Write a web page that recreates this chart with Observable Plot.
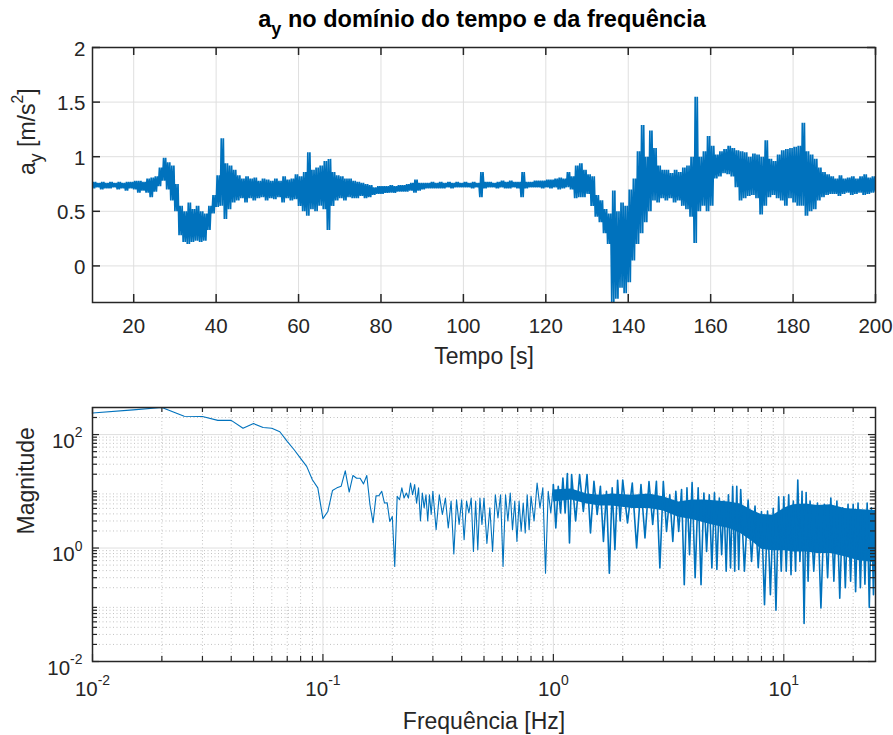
<!DOCTYPE html>
<html><head><meta charset="utf-8">
<script src="https://cdn.jsdelivr.net/npm/d3@7"></script>
<script src="https://cdn.jsdelivr.net/npm/@observablehq/plot@0.6"></script>
<style>
body{margin:0;background:#fff;}
#chart{width:893px;height:735px;position:relative;background:#fff;}
#chart svg{display:block;position:absolute;left:0;}
</style></head><body><div id="chart"></div>
<script>
// ---------- Top panel: a_y vs time (per-second min / max of the noisy signal) ----------
const timeS = [
 10,11,12,13,14,15,16,17,18,19, 20,21,22,23,24,25,26,27,28,29,
 30,31,32,33,34,35,36,37,38,39, 40,41,42,43,44,45,46,47,48,49,
 50,51,52,53,54,55,56,57,58,59, 60,61,62,63,64,65,66,67,68,69,
 70,71,72,73,74,75,76,77,78,79, 80,81,82,83,84,85,86,87,88,89,
 90,91,92,93,94,95,96,97,98,99, 100,101,102,103,104,105,106,107,108,109,
 110,111,112,113,114,115,116,117,118,119, 120,121,122,123,124,125,126,127,128,129,
 130,131,132,133,134,135,136,137,138,139, 140,141,142,143,144,145,146,147,148,149,
 150,151,152,153,154,155,156,157,158,159, 160,161,162,163,164,165,166,167,168,169,
 170,171,172,173,174,175,176,177,178,179, 180,181,182,183,184,185,186,187,188,189,
 190,191,192,193,194,195,196,197,198,199, 200];
const ayLow = [
 0.71,0.72,0.70,0.71,0.71,0.72,0.70,0.71,0.69,0.71, 0.70,0.67,0.69,0.67,0.63,0.68,0.73,0.78,0.70,0.60,
 0.50,0.28,0.22,0.20,0.22,0.23,0.22,0.23,0.33,0.48, 0.54,0.55,0.43,0.52,0.58,0.60,0.62,0.58,0.62,0.60,
 0.62,0.63,0.60,0.62,0.61,0.63,0.58,0.62,0.60,0.61, 0.55,0.50,0.46,0.52,0.50,0.55,0.52,0.33,0.55,0.60,
 0.62,0.60,0.63,0.62,0.62,0.64,0.62,0.63,0.65,0.66, 0.66,0.67,0.67,0.67,0.68,0.68,0.68,0.69,0.67,0.69,
 0.70,0.71,0.71,0.71,0.71,0.71,0.72,0.71,0.72,0.72, 0.72,0.72,0.71,0.72,0.63,0.71,0.72,0.72,0.71,0.72,
 0.71,0.71,0.72,0.71,0.63,0.71,0.72,0.72,0.72,0.71, 0.72,0.71,0.72,0.70,0.71,0.72,0.70,0.62,0.63,0.63,
 0.66,0.55,0.45,0.40,0.30,0.20,-0.33,-0.30,-0.20,-0.25, -0.15,0.05,0.20,0.30,0.40,0.50,0.60,0.58,0.62,0.60,
 0.62,0.58,0.60,0.55,0.52,0.45,0.21,0.50,0.55,0.50, 0.55,0.80,0.82,0.85,0.84,0.82,0.72,0.60,0.62,0.64,
 0.65,0.62,0.47,0.55,0.63,0.65,0.62,0.60,0.55,0.62, 0.58,0.55,0.55,0.46,0.50,0.52,0.60,0.63,0.65,0.66,
 0.66,0.64,0.66,0.67,0.65,0.66,0.67,0.65,0.66,0.67, 0.68];
const ayHigh = [
 0.77,0.76,0.77,0.76,0.77,0.76,0.77,0.76,0.77,0.77, 0.78,0.78,0.77,0.80,0.81,0.82,0.90,0.99,0.95,0.92,
 0.75,0.55,0.50,0.58,0.52,0.55,0.50,0.48,0.55,0.65, 0.83,1.17,0.94,0.92,0.88,0.83,0.80,0.82,0.80,0.81,
 0.78,0.80,0.79,0.78,0.80,0.78,0.82,0.79,0.80,0.84, 0.82,0.86,1.04,0.88,0.90,0.92,0.96,0.98,0.86,0.83,
 0.82,0.80,0.80,0.78,0.77,0.76,0.75,0.74,0.72,0.73, 0.73,0.73,0.74,0.73,0.74,0.74,0.75,0.76,0.79,0.76,
 0.76,0.76,0.77,0.76,0.77,0.76,0.77,0.76,0.77,0.76, 0.77,0.76,0.77,0.76,0.86,0.77,0.77,0.76,0.77,0.78,
 0.77,0.78,0.77,0.77,0.86,0.77,0.77,0.78,0.78,0.78, 0.79,0.79,0.80,0.81,0.80,0.86,0.82,0.92,0.94,0.88,
 0.84,0.82,0.65,0.60,0.52,0.48,0.69,0.50,0.58,0.55, 0.70,0.80,1.05,1.29,1.00,1.24,1.08,0.92,0.88,0.88,
 0.85,0.88,0.86,0.90,0.92,1.00,1.55,1.00,1.05,1.19, 1.10,1.02,1.05,1.07,1.10,1.08,1.06,1.05,1.04,1.00,
 1.03,1.02,1.00,1.15,0.98,0.96,1.02,1.06,1.07,1.08, 1.09,1.10,1.31,1.05,1.02,0.98,0.90,0.86,0.84,0.82,
 0.80,0.83,0.80,0.81,0.82,0.80,0.82,0.84,0.81,0.82, 0.79];
const timeTicks = [20,40,60,80,100,120,140,160,180,200];
const ayTicks = [0,0.5,1,1.5,2];

// ---------- Bottom panel: FFT magnitude ----------
const lowFreqHz = [0.01,0.015,0.02,0.025,0.03,0.035,0.04,0.045,0.05,0.055,
 0.06,0.065,0.07,0.075,0.08,0.085,0.09,0.095,0.1,0.105,
 0.11,0.115,0.12,0.125,0.13,0.135,0.14,0.145,0.15,0.155,
 0.16,0.165,0.17,0.175,0.18,0.185,0.19,0.195];
const lowFreqMag = [240,272,300,210,208,178,178,129,156,133,
 129,112,76,54,38,27.5,16,11.5,3.3,4.4,
 10.3,11.5,12.3,23,9.7,19,17,17,13.5,19,
 5.8,2.8,8.3,8.4,10,6.2,6.3,2.95];
const bandFreqHz = [0.2,0.21,0.22,0.23,0.24,0.25,0.26,0.27,0.28,0.29,
 0.3,0.32,0.34,0.36,0.38,0.4,0.42,0.44,0.46,0.48,
 0.5,0.53,0.56,0.59,0.62,0.65,0.68,0.71,0.74,0.77,
 0.8,0.85,0.9,0.95,1,1.05,1.1,1.15,1.2,1.3,
 1.4,1.5,1.6,1.7,1.8,1.9,2,2.2,2.4,2.6,
 2.8,3,3.2,3.4,3.6,3.8,4,4.25,4.5,4.75,
 5,5.25,5.5,5.75,6,6.25,6.5,7,7.5,8,
 8.5,9,9.5,10,10.5,11,11.5,12,12.5,13,
 14,15,16,17,18,19,20,21,22,23,
 24,25];
const bandPeak = [3.6,8.2,11.5,9.35,14,13.1,11.5,9.35,8.7,8.7,
 10,8.7,7.6,6.7,7.1,7.1,6.7,7.6,6.7,7.6,
 7.6,5.1,8.7,8.7,8.7,9.35,6.7,6.7,6.2,8.7,
 8.2,14,11.5,10,13.1,12.2,17.2,20.5,19.7,19.7,
 19.7,15,12.2,10,11.5,15.6,15.8,14,13.1,14.9,
 15,14.9,8.7,10,10.7,11.5,14.3,11.5,9.35,8.7,
 9.4,7.6,6.7,8.7,12.3,12.2,10.7,7,5.5,4.4,
 4.5,5,8,8,8.7,6.7,15.8,10,9.5,6.7,
 6.2,5.9,7.6,6.7,5.1,5.9,5.9,6.2,4.4,6.2,
 5.1,3.9];
const bandDip = [0.475,7.1,7.6,7.6,8.7,6.2,3.0,5.1,3.0,3.9,
 2.1,3.9,2.25,0.785,2.6,1.4,4.15,0.87,0.935,2.6,
 1.2,0.87,3.4,0.475,3.0,2.1,1.31,1.97,1.84,2.1,
 3.0,5.1,0.36,4.15,2.25,4.15,4.15,1.23,3.0,4.4,
 1.84,3.9,1.31,0.36,0.935,3.0,2.77,1.0,1.5,2.6,
 0.445,1.97,1.31,1.97,0.226,0.76,0.30,0.226,0.87,0.445,
 0.42,0.76,0.39,0.445,0.39,0.42,0.39,0.58,0.45,0.10,
 0.15,0.08,0.39,0.39,0.34,0.39,0.58,0.047,0.26,0.39,
 0.088,0.30,0.26,0.13,0.2,0.26,0.17,0.2,0.23,0.09,
 0.15,0.58];
// dense core of the spectrum (where the trace fills solid)
const coreFreqHz = [1,1.2,1.4,1.6,1.8,2.2,2.6,3,3.5,4,4.5,5,5.8,6.5,7.3,8,9,10.2,11,12.5,14,16,18.4,21,25];
const coreLow  = [6.5,7,6,5.5,5.5,5,5,4.5,3.5,3.2,2.8,2.5,2.2,1.8,1.3,0.95,0.9,0.9,0.85,0.85,0.8,0.8,0.7,0.6,0.55];
const coreHigh = [10.5,11,9,8.5,9,8.5,9,8,6.5,7,7,6.8,6.5,6,4.6,3.9,3.8,5.2,5.8,6,5.6,5.8,5,4.8,4.6];
const freqLabelTicks = [0.01,0.1,1,10];
const magLabelTicks = [0.01,1,100];
const freqMajorGrid = [0.1,1,10];
const freqMinorGrid = [0.02,0.03,0.04,0.05,0.06,0.07,0.08,0.09,0.2,0.3,0.4,0.5,0.6,0.7,0.8,0.9,2,3,4,5,6,7,8,9,20];
const magMajorGrid = [1,100];
const magMinorGrid = [0.02,0.03,0.04,0.05,0.06,0.07,0.08,0.09,0.2,0.3,0.4,0.5,0.6,0.7,0.8,0.9,2,3,4,5,6,7,8,9,20,30,40,50,60,70,80,90,200];

// ---------- build tables ----------
// each second's low/high is traced twice so the noise band renders as dense as the original trace
const topPts = [];
timeS.forEach((t, i) => {
  topPts.push({t, v: ayLow[i]});
  topPts.push({t: t + 0.25, v: ayHigh[i]});
  topPts.push({t: t + 0.5, v: ayLow[i]});
  topPts.push({t: t + 0.75, v: ayHigh[i]});
});
const fftPts = lowFreqHz.map((f, i) => ({f, m: lowFreqMag[i]}));
bandFreqHz.forEach((f, i) => {
  fftPts.push({f, m: bandPeak[i]});
  if (i < bandFreqHz.length - 1) fftPts.push({f: Math.sqrt(f * bandFreqHz[i + 1]), m: bandDip[i]});
});
const fftLowPart = fftPts.filter(d => d.f <= 1);
const fftHighPart = fftPts.filter(d => d.f >= 1);
const corePts = coreFreqHz.map((f, i) => ({f, lo: coreLow[i], hi: coreHigh[i]}));

const BLUE = "#0072BD", INK = "#262626", GRID = "#dfdfdf", MINOR = "#c2c2c2";
const FONT = "'Liberation Sans', Arial, sans-serif";
const W = 893, ML = 92, MR = 18;
const IW = W - ML - MR;

// ---------- top chart ----------
const H1 = 370, MT1 = 47, MB1 = 68, IH1 = H1 - MT1 - MB1, TL1 = 8;
const topChart = Plot.plot({
  width: W, height: H1, marginLeft: ML, marginRight: MR, marginTop: MT1, marginBottom: MB1,
  x: {domain: [10, 200], axis: null},
  y: {domain: [-0.335, 2], axis: null},
  style: {fontFamily: FONT, background: "transparent", overflow: "visible"},
  marks: [
    Plot.ruleX(timeTicks, {stroke: GRID}),
    Plot.ruleY(ayTicks, {stroke: GRID}),
    Plot.line(topPts, {x: "t", y: "v", stroke: BLUE, strokeWidth: 1.7, strokeLinejoin: "miter", strokeMiterlimit: 1, clip: true}),
    Plot.frame({stroke: INK, strokeWidth: 1.5}),
    Plot.ruleX(timeTicks, {stroke: INK, strokeWidth: 1.5, insetTop: IH1 - TL1}),
    Plot.ruleX(timeTicks, {stroke: INK, strokeWidth: 1.5, insetBottom: IH1 - TL1}),
    Plot.ruleY(ayTicks, {stroke: INK, strokeWidth: 1.5, insetRight: IW - TL1}),
    Plot.ruleY(ayTicks, {stroke: INK, strokeWidth: 1.5, insetLeft: IW - TL1}),
    Plot.text(timeTicks, {x: d => d, text: d => String(d), frameAnchor: "bottom", lineAnchor: "top", dy: 16, fontSize: 20.5, fill: INK}),
    Plot.text(ayTicks, {y: d => d, text: d => String(d), frameAnchor: "left", textAnchor: "end", dx: -7, dy: 1.5, fontSize: 20.5, fill: INK}),
    Plot.text(["Tempo [s]"], {text: d => d, frameAnchor: "bottom", lineAnchor: "bottom", dy: 61, fontSize: 23, fill: INK}),
    Plot.text(["a_{y} [m/s^{2}]"], {text: d => d, frameAnchor: "left", rotate: -90, lineAnchor: "bottom", dx: -58, fontSize: 23, fill: INK}),
    Plot.text(["a_{y} no domínio do tempo e da frequência"], {text: d => d, frameAnchor: "top", lineAnchor: "bottom", dy: -20.3, dx: -2, fontSize: 23.5, fontWeight: "bold", fill: "#000"})
  ]
});

// ---------- bottom chart ----------
const H2 = 365, MT2 = 37, MB2 = 74, IH2 = H2 - MT2 - MB2, TLM = 7, TLm = 5;
const expLabel = d => `10^{${Math.round(Math.log10(d))}}`;
const bottomChart = Plot.plot({
  width: W, height: H2, marginLeft: ML, marginRight: MR, marginTop: MT2, marginBottom: MB2,
  x: {type: "log", domain: [0.01, 25], axis: null},
  y: {type: "log", domain: [0.01, 300], axis: null},
  style: {fontFamily: FONT, background: "transparent", overflow: "visible"},
  marks: [
    Plot.ruleX(freqMinorGrid, {stroke: MINOR, strokeDasharray: "1,2.5"}),
    Plot.ruleY(magMinorGrid, {stroke: MINOR, strokeDasharray: "1,2.5"}),
    Plot.ruleX(freqMajorGrid, {stroke: GRID}),
    Plot.ruleY(magMajorGrid, {stroke: GRID}),
    Plot.areaY(corePts, {x: "f", y1: "lo", y2: "hi", fill: BLUE}),
    Plot.line(fftLowPart, {x: "f", y: "m", stroke: BLUE, strokeWidth: 1.1, clip: true}),
    Plot.line(fftHighPart, {x: "f", y: "m", stroke: BLUE, strokeWidth: 1.6, clip: true}),
    Plot.frame({stroke: INK, strokeWidth: 1.5}),
    Plot.ruleX(freqLabelTicks, {stroke: INK, strokeWidth: 1.2, insetTop: IH2 - TLM}),
    Plot.ruleX(freqLabelTicks, {stroke: INK, strokeWidth: 1.2, insetBottom: IH2 - TLM}),
    Plot.ruleX(freqMinorGrid, {stroke: INK, strokeWidth: 1.2, insetTop: IH2 - TLm}),
    Plot.ruleX(freqMinorGrid, {stroke: INK, strokeWidth: 1.2, insetBottom: IH2 - TLm}),
    Plot.ruleY(magLabelTicks, {stroke: INK, strokeWidth: 1.2, insetRight: IW - TLM}),
    Plot.ruleY(magLabelTicks, {stroke: INK, strokeWidth: 1.2, insetLeft: IW - TLM}),
    Plot.ruleY(magMinorGrid.concat([10]), {stroke: INK, strokeWidth: 1.2, insetRight: IW - TLm}),
    Plot.ruleY(magMinorGrid.concat([10]), {stroke: INK, strokeWidth: 1.2, insetLeft: IW - TLm}),
    Plot.text(freqLabelTicks, {x: d => d, text: expLabel, frameAnchor: "bottom", lineAnchor: "top", dy: 19.7, fontSize: 20.5, fill: INK}),
    Plot.text(magLabelTicks, {y: d => d, text: expLabel, frameAnchor: "left", textAnchor: "end", dx: -10, dy: 6.8, fontSize: 20.5, fill: INK}),
    Plot.text(["Frequência [Hz]"], {text: d => d, frameAnchor: "bottom", lineAnchor: "bottom", dy: 67.3, fontSize: 23, fill: INK}),
    Plot.text(["Magnitude"], {text: d => d, frameAnchor: "left", rotate: -90, lineAnchor: "bottom", dx: -58.5, fontSize: 23, fill: INK})
  ]
});

const chart = document.getElementById("chart");
topChart.style.top = "0px";
bottomChart.style.top = H1 + "px";
chart.appendChild(topChart);
chart.appendChild(bottomChart);

// rich text: _{sub} and ^{sup}
function richify(svg) {
  svg.querySelectorAll("text").forEach(el => {
    const s = el.textContent;
    if (!/[_^]\{/.test(s)) return;
    const fs = parseFloat(getComputedStyle(el).fontSize) || 16;
    el.textContent = "";
    const add = (txt, dy, size) => {
      const t = document.createElementNS("http://www.w3.org/2000/svg", "tspan");
      t.textContent = txt;
      if (dy) t.setAttribute("dy", dy.toFixed(2));
      if (size) t.setAttribute("font-size", size.toFixed(2));
      el.appendChild(t);
    };
    const re = /([_^])\{([^}]*)\}/g;
    let last = 0, m, shift = 0;
    while ((m = re.exec(s))) {
      if (m.index > last) { add(s.slice(last, m.index), -shift); shift = 0; }
      const sub = m[1] === "_";
      const dy = sub ? 0.33 * fs : -0.52 * fs;
      add(m[2], dy - shift, (sub ? 0.77 : 0.68) * fs);
      shift = dy;
      last = re.lastIndex;
    }
    if (last < s.length) add(s.slice(last), -shift);
  });
}
richify(topChart);
richify(bottomChart);
</script>
</body></html>
